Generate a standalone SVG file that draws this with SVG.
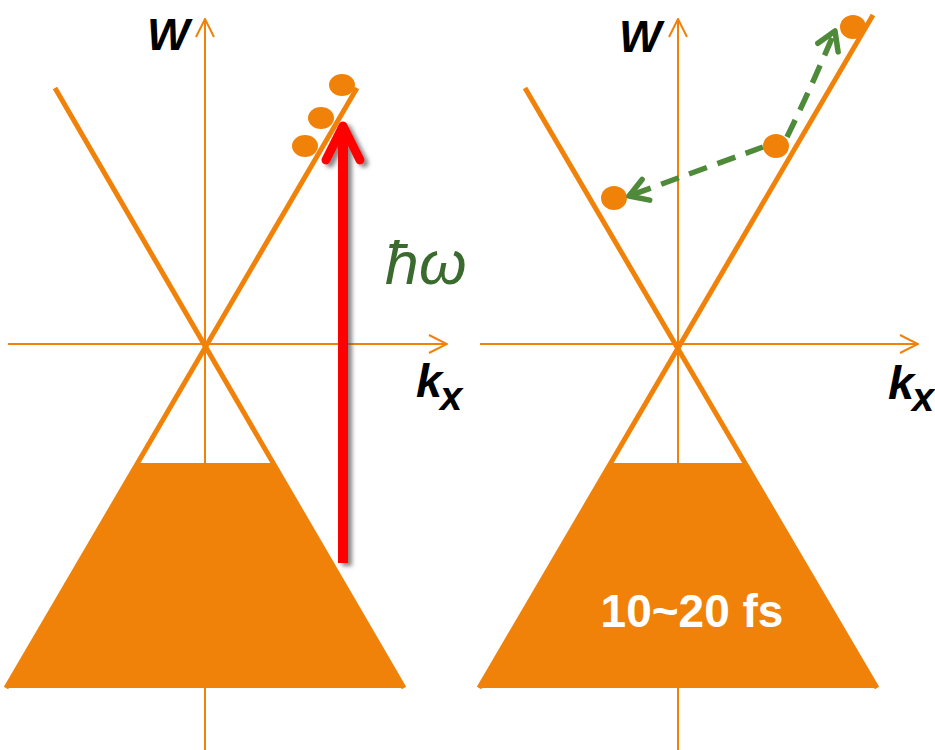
<svg xmlns="http://www.w3.org/2000/svg" width="935" height="750" viewBox="0 0 935 750">
<style>
.axis{stroke:#f0820a;stroke-width:2;fill:none}
.band{stroke:#f0820a;stroke-width:5;fill:none}
.fill{fill:#f0820a}
.dot{fill:#f0820a}
.lbl{font-family:"Liberation Sans",Arial,sans-serif;font-weight:bold;font-style:italic;fill:#000}
.path{stroke:#4f8a3a;stroke-width:5.5;fill:none;stroke-dasharray:19 11}
</style>
<defs>
<marker id="axArrow" viewBox="0 0 20 20" refX="19" refY="10" markerWidth="20" markerHeight="20" markerUnits="userSpaceOnUse" orient="auto">
<polyline points="1,1 19,10 1,19" fill="none" stroke="#f0820a" stroke-width="2"/>
</marker>
<marker id="gArrow" viewBox="0 0 30 30" refX="25" refY="15" markerWidth="30" markerHeight="30" markerUnits="userSpaceOnUse" orient="auto">
<polyline points="7,4 25,15 7,26" fill="none" stroke="#4f8a3a" stroke-width="5.5" stroke-linecap="round" stroke-linejoin="round"/>
</marker>
<filter id="shadow" x="-50%" y="-10%" width="200%" height="130%">
<feDropShadow dx="4" dy="3" stdDeviation="2" flood-color="#555" flood-opacity="0.7"/>
</filter>
</defs>

<g id="left-panel">
<g id="left-axes">
<line class="axis" x1="205" y1="750" x2="205" y2="19" marker-end="url(#axArrow)"/>
<line class="axis" x1="8" y1="344" x2="447" y2="344" marker-end="url(#axArrow)"/>
</g>
<g id="left-band">
<polygon class="fill" points="138,463 272,463 404,688 6,688"/>
<line class="band" x1="55" y1="88" x2="404" y2="688"/>
<line class="band" x1="357" y1="88" x2="6" y2="688"/>
</g>
<g id="left-dots">
<ellipse class="dot" cx="342" cy="85" rx="13" ry="11"/>
<ellipse class="dot" cx="321" cy="118" rx="13" ry="11"/>
<ellipse class="dot" cx="305" cy="146" rx="13" ry="11"/>
</g>
<g id="excitation" filter="url(#shadow)">
<line x1="343" y1="563" x2="343" y2="130" stroke="#ff0000" stroke-width="10"/>
<polyline points="326,160 343,126 360,160" fill="none" stroke="#ff0000" stroke-width="9" stroke-linecap="round" stroke-linejoin="round"/>
</g>
<text x="385" y="284" font-family="Liberation Sans,Arial,sans-serif" font-style="italic" font-size="61" fill="#3b6a2f">ħω</text>
<text class="lbl" x="147" y="50" font-size="45">W</text>
<text class="lbl" x="416" y="397" font-size="47">k</text>
<text class="lbl" x="440" y="410" font-size="40">x</text>
</g>

<g id="right-panel">
<g id="right-axes">
<line class="axis" x1="678" y1="750" x2="678" y2="19" marker-end="url(#axArrow)"/>
<line class="axis" x1="480" y1="344" x2="918" y2="344" marker-end="url(#axArrow)"/>
</g>
<g id="right-band">
<polygon class="fill" points="611,463 745,463 877,688 479,688"/>
<line class="band" x1="525" y1="88" x2="877" y2="688"/>
<line class="band" x1="873" y1="15" x2="479" y2="688"/>
</g>
<g id="right-dots">
<ellipse class="dot" cx="853" cy="27" rx="13" ry="12"/>
<ellipse class="dot" cx="776" cy="146" rx="13" ry="12"/>
<ellipse class="dot" cx="614" cy="198" rx="13" ry="12"/>
</g>
<g id="connectors">
<path class="path" d="M787,137 Q810,90 835,31" marker-end="url(#gArrow)"/>
<path class="path" d="M763,147 Q700,170 629,196" marker-end="url(#gArrow)"/>
</g>
<text x="692" y="627" font-family="Liberation Sans,Arial,sans-serif" font-weight="bold" font-size="46" fill="#fff" text-anchor="middle">10~20 fs</text>
<text class="lbl" x="619" y="52" font-size="45">W</text>
<text class="lbl" x="888" y="399" font-size="47">k</text>
<text class="lbl" x="912" y="411" font-size="40">x</text>
</g>
</svg>
